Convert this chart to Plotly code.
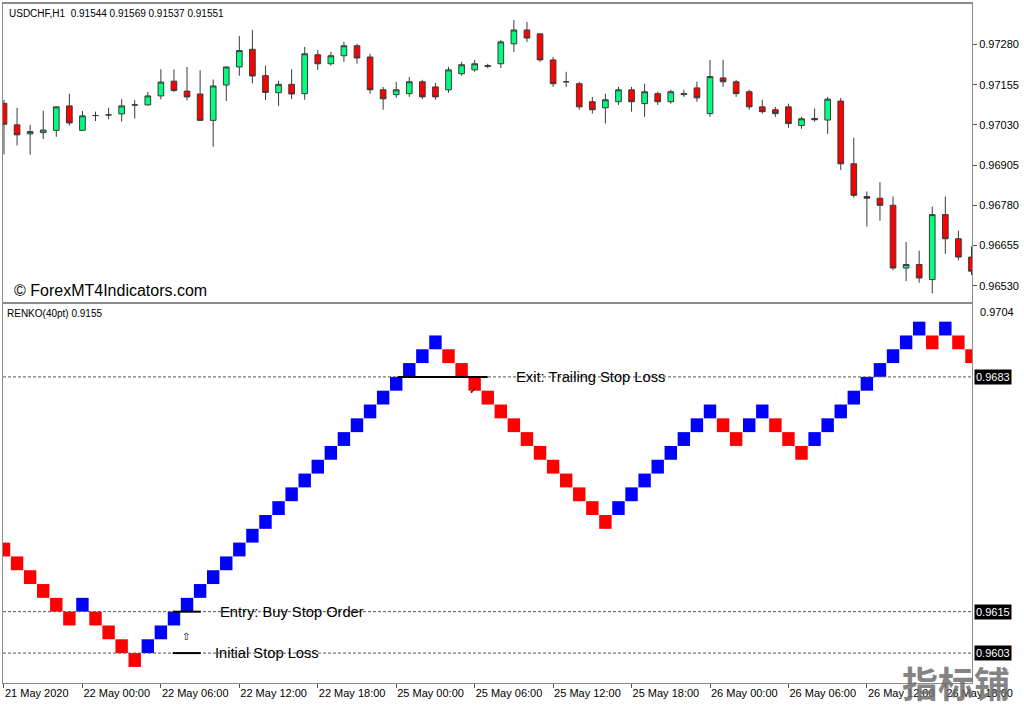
import plotly.graph_objects as go

W, H = 1024, 705
ML, MR, MT, MB = 2, 52, 2, 22
PW = W - ML - MR
PH = H - MT - MB


def px_x(px):
    return (px - ML) / PW


def px_y(py):
    return (H - MB - py) / PH


# ---------------- data ----------------
bars = list(range(75))
opens = [0.97097, 0.97030, 0.97002, 0.97006, 0.97013, 0.97089, 0.97013, 0.97059, 0.97061, 0.97064,
         0.97092, 0.97092, 0.97120, 0.97166, 0.97135, 0.97126, 0.97044, 0.97154, 0.97210, 0.97265,
         0.97183, 0.97130, 0.97156, 0.97127, 0.97248, 0.97220, 0.97245, 0.97276, 0.97241, 0.97139,
         0.97124, 0.97127, 0.97164, 0.97148, 0.97139, 0.97189, 0.97201, 0.97212, 0.97220, 0.97282,
         0.97325, 0.97313, 0.97232, 0.97164, 0.97158, 0.97102, 0.97083, 0.97102, 0.97139, 0.97096,
         0.97127, 0.97102, 0.97124, 0.97145, 0.97065, 0.97176, 0.97164, 0.97133, 0.97086, 0.97077,
         0.97086, 0.97028, 0.97050, 0.97045, 0.97104, 0.96909, 0.96807, 0.96802, 0.96780, 0.96585,
         0.96596, 0.96549, 0.96751, 0.96676, 0.96619]
highs = [0.97108, 0.97083, 0.97030, 0.97074, 0.97088, 0.97127, 0.97073, 0.97071, 0.97083, 0.97110,
         0.97107, 0.97133, 0.97203, 0.97202, 0.97210, 0.97200, 0.97171, 0.97212, 0.97306, 0.97325,
         0.97214, 0.97167, 0.97203, 0.97272, 0.97263, 0.97257, 0.97288, 0.97282, 0.97251, 0.97148,
         0.97164, 0.97179, 0.97170, 0.97160, 0.97210, 0.97226, 0.97232, 0.97220, 0.97294, 0.97356,
         0.97350, 0.97313, 0.97241, 0.97195, 0.97164, 0.97117, 0.97127, 0.97148, 0.97148, 0.97158,
         0.97133, 0.97139, 0.97139, 0.97164, 0.97232, 0.97232, 0.97170, 0.97139, 0.97108, 0.97086,
         0.97096, 0.97055, 0.97081, 0.97117, 0.97114, 0.96990, 0.96823, 0.96852, 0.96807, 0.96666,
         0.96639, 0.96776, 0.96807, 0.96701, 0.96652]
lows = [0.96938, 0.96966, 0.96937, 0.96986, 0.96993, 0.97028, 0.97012, 0.97042, 0.97048, 0.97040,
        0.97050, 0.97091, 0.97109, 0.97132, 0.97106, 0.97043, 0.96962, 0.97104, 0.97183, 0.97159,
        0.97107, 0.97089, 0.97110, 0.97108, 0.97201, 0.97214, 0.97226, 0.97220, 0.97127, 0.97077,
        0.97114, 0.97117, 0.97110, 0.97108, 0.97130, 0.97183, 0.97195, 0.97206, 0.97207, 0.97257,
        0.97288, 0.97226, 0.97148, 0.97148, 0.97077, 0.97065, 0.97034, 0.97092, 0.97071, 0.97055,
        0.97092, 0.97096, 0.97117, 0.97102, 0.97055, 0.97148, 0.97117, 0.97077, 0.97065, 0.97055,
        0.97021, 0.97018, 0.97040, 0.97002, 0.96890, 0.96804, 0.96714, 0.96732, 0.96578, 0.96544,
        0.96539, 0.96506, 0.96629, 0.96609, 0.96563]
closes = [0.97032, 0.96999, 0.97009, 0.97014, 0.97086, 0.97036, 0.97058, 0.97059, 0.97061, 0.97089,
          0.97092, 0.97120, 0.97163, 0.97137, 0.97117, 0.97044, 0.97151, 0.97210, 0.97261, 0.97182,
          0.97131, 0.97156, 0.97126, 0.97251, 0.97220, 0.97245, 0.97276, 0.97238, 0.97139, 0.97111,
          0.97139, 0.97164, 0.97117, 0.97117, 0.97201, 0.97217, 0.97220, 0.97214, 0.97288, 0.97325,
          0.97300, 0.97232, 0.97158, 0.97164, 0.97086, 0.97077, 0.97108, 0.97139, 0.97102, 0.97133,
          0.97102, 0.97133, 0.97127, 0.97114, 0.97180, 0.97164, 0.97127, 0.97086, 0.97071, 0.97065,
          0.97034, 0.97049, 0.97046, 0.97110, 0.96909, 0.96811, 0.96802, 0.96780, 0.96585, 0.96596,
          0.96554, 0.96751, 0.96676, 0.96619, 0.96575]

# Renko (40pt bricks)
BRICK = 0.0004
renko_cols = list(range(75))
renko_low = [0.9631, 0.9627, 0.9623, 0.9619, 0.9615, 0.9611, 0.9615, 0.9611, 0.9607, 0.9603,
             0.9599, 0.9603, 0.9607, 0.9611, 0.9615, 0.9619, 0.9623, 0.9627, 0.9631, 0.9635,
             0.9639, 0.9643, 0.9647, 0.9651, 0.9655, 0.9659, 0.9663, 0.9667, 0.9671, 0.9675,
             0.9679, 0.9683, 0.9687, 0.9691, 0.9687, 0.9683, 0.9679, 0.9675, 0.9671, 0.9667,
             0.9663, 0.9659, 0.9655, 0.9651, 0.9647, 0.9643, 0.9639, 0.9643, 0.9647, 0.9651,
             0.9655, 0.9659, 0.9663, 0.9667, 0.9671, 0.9667, 0.9663, 0.9667, 0.9671, 0.9667,
             0.9663, 0.9659, 0.9663, 0.9667, 0.9671, 0.9675, 0.9679, 0.9683, 0.9687, 0.9691,
             0.9695, 0.9691, 0.9695, 0.9691, 0.9687]
renko_dir = "DDDDDDUDDDDUUUUUUUUUUUUUUUUUUUUUUUDDDDDDDDDDDDDUUUUUUUUDDUUDDDUUUUUUUUUDUDD"

top_ticks = [0.97280, 0.97155, 0.97030, 0.96905, 0.96780, 0.96655, 0.96530]
x_tick_bars = [0, 6, 12, 18, 24, 30, 36, 42, 48, 54, 60, 66, 72]
x_tick_text = ["21 May 2020", "22 May 00:00", "22 May 06:00", "22 May 12:00", "22 May 18:00",
               "25 May 00:00", "25 May 06:00", "25 May 12:00", "25 May 18:00", "26 May 00:00",
               "26 May 06:00", "26 May 12:00", "26 May 18:00"]

level_exit = 0.9683
level_entry = 0.9615
level_stop = 0.9603
renko_top_label = 0.9704
exit_seg = (30.1, 37.0)
entry_seg = (12.9, 15.05)

# ---------------- figure ----------------
fig = go.Figure()

fig.add_trace(go.Candlestick(
    x=bars, open=opens, high=highs, low=lows, close=closes,
    increasing=dict(fillcolor="#00FF7F", line=dict(color="#3a3a3a", width=1)),
    decreasing=dict(fillcolor="#FF0000", line=dict(color="#3a3a3a", width=1)),
    whiskerwidth=0, xaxis="x2", yaxis="y2", showlegend=False, hoverinfo="skip"))

fig.add_trace(go.Bar(
    x=renko_cols, y=[BRICK] * len(renko_cols), base=renko_low,
    marker=dict(color=["#0000FF" if d == "U" else "#FF0000" for d in renko_dir], line=dict(width=0)),
    width=0.95, xaxis="x", yaxis="y", showlegend=False, hoverinfo="skip"))

font_axis = dict(family="Liberation Sans, Arial, sans-serif", size=11, color="black")
XR = [-0.076, 74.04]

fig.update_layout(
    width=W, height=H,
    margin=dict(l=ML, r=MR, t=MT, b=MB, pad=0),
    paper_bgcolor="white", plot_bgcolor="white",
    showlegend=False, boxgap=0.38,
    xaxis=dict(domain=[0, 1], anchor="y", range=XR, showgrid=False, zeroline=False,
               showline=True, mirror=True, linecolor="#8c8c8c", linewidth=1,
               tickvals=x_tick_bars, ticktext=x_tick_text, ticks="outside", ticklen=4,
               tickcolor="#555", ticklabelposition="outside right", tickfont=font_axis),
    yaxis=dict(domain=[0, px_y(303)], anchor="x", range=[0.959434, 0.970408], side="right",
               showgrid=False, zeroline=False, showline=True, mirror=True,
               linecolor="#8c8c8c", linewidth=1, showticklabels=False, ticks=""),
    xaxis2=dict(domain=[0, 1], anchor="y2", matches="x", range=XR, showgrid=False,
                zeroline=False, showline=True, mirror=True, linecolor="#8c8c8c", linewidth=2,
                showticklabels=False, ticks="", rangeslider=dict(visible=False)),
    yaxis2=dict(domain=[px_y(301), 1], anchor="x2", range=[0.964789, 0.974058], side="right",
                showgrid=False, zeroline=False, showline=True, mirror=True,
                linecolor="#8c8c8c", linewidth=1, tickvals=top_ticks,
                ticktext=["%.5f" % v for v in top_ticks], ticks="outside", ticklen=4,
                tickcolor="#555", tickfont=font_axis),
)

shapes = []
for lv in (level_exit, level_entry, level_stop):
    shapes.append(dict(type="line", xref="paper", yref="y", x0=0, x1=1, y0=lv, y1=lv,
                       line=dict(color="#555555", width=1, dash="3px,2px")))
shapes.append(dict(type="line", xref="x", yref="y", x0=exit_seg[0], x1=exit_seg[1],
                   y0=level_exit, y1=level_exit, line=dict(color="black", width=2)))
for lv in (level_entry, level_stop):
    shapes.append(dict(type="line", xref="x", yref="y", x0=entry_seg[0], x1=entry_seg[1],
                       y0=lv, y1=lv, line=dict(color="black", width=2)))
fig.update_layout(shapes=shapes)

ann = []
lbl_font = dict(family="Liberation Sans, Arial, sans-serif", size=11, color="black")
ann.append(dict(text="USDCHF,H1  0.91544 0.91569 0.91537 0.91551", xref="paper", yref="paper",
                x=px_x(6), y=px_y(12), xanchor="left", yanchor="middle", showarrow=False,
                font=dict(family="Liberation Sans, Arial, sans-serif", size=10, color="black")))
ann.append(dict(text="RENKO(40pt) 0.9155", xref="paper", yref="paper",
                x=px_x(4), y=px_y(312), xanchor="left", yanchor="middle", showarrow=False,
                font=dict(family="Liberation Sans, Arial, sans-serif", size=10, color="black")))
ann.append(dict(text="© ForexMT4Indicators.com", xref="paper", yref="paper",
                x=px_x(11), y=px_y(289), xanchor="left", yanchor="middle", showarrow=False,
                font=dict(family="Liberation Sans, Arial, sans-serif", size=16, color="black")))
ann.append(dict(text="%.4f" % renko_top_label, xref="paper", yref="paper",
                x=px_x(978), y=px_y(311), xanchor="left", yanchor="middle", showarrow=False,
                font=lbl_font))
for lv in (level_exit, level_entry, level_stop):
    ann.append(dict(text="%.4f" % lv, xref="paper", yref="y", x=px_x(974), y=lv,
                    xanchor="left", yanchor="middle", showarrow=False, bgcolor="black",
                    borderpad=1, font=dict(family="Liberation Sans, Arial, sans-serif",
                                           size=11, color="white")))
note_font = dict(family="Liberation Sans, Arial, sans-serif", size=14.7, color="black")
ann.append(dict(text="Exit: Trailing Stop Loss", xref="x", yref="y", x=39.0, y=level_exit,
                xanchor="left", yanchor="middle", showarrow=False, font=note_font))
ann.append(dict(text="Entry: Buy Stop Order", xref="x", yref="y", x=16.4, y=level_entry,
                xanchor="left", yanchor="middle", showarrow=False, font=note_font))
ann.append(dict(text="Initial Stop Loss", xref="x", yref="y", x=15.95, y=level_stop,
                xanchor="left", yanchor="middle", showarrow=False, font=note_font))
ann.append(dict(text="⇧", xref="x", yref="y", x=13.9, y=0.96079, showarrow=False,
                font=dict(family="DejaVu Sans", size=10, color="black")))
ann.append(dict(text="✓", xref="x", yref="y", x=35.9, y=0.96790, showarrow=False,
                font=dict(family="DejaVu Sans", size=10, color="black")))
ann.append(dict(text="<b>指标铺</b>", xref="paper", yref="paper", x=px_x(900), y=px_y(682),
                xanchor="left", yanchor="middle", showarrow=False,
                font=dict(family="Noto Sans CJK SC", size=36, color="rgba(110,110,110,0.85)")))
fig.update_layout(annotations=ann)

fig.write_html("out.html", config={"displayModeBar": False},
               post_script="document.body.style.margin='0px';document.body.style.padding='0px';")
